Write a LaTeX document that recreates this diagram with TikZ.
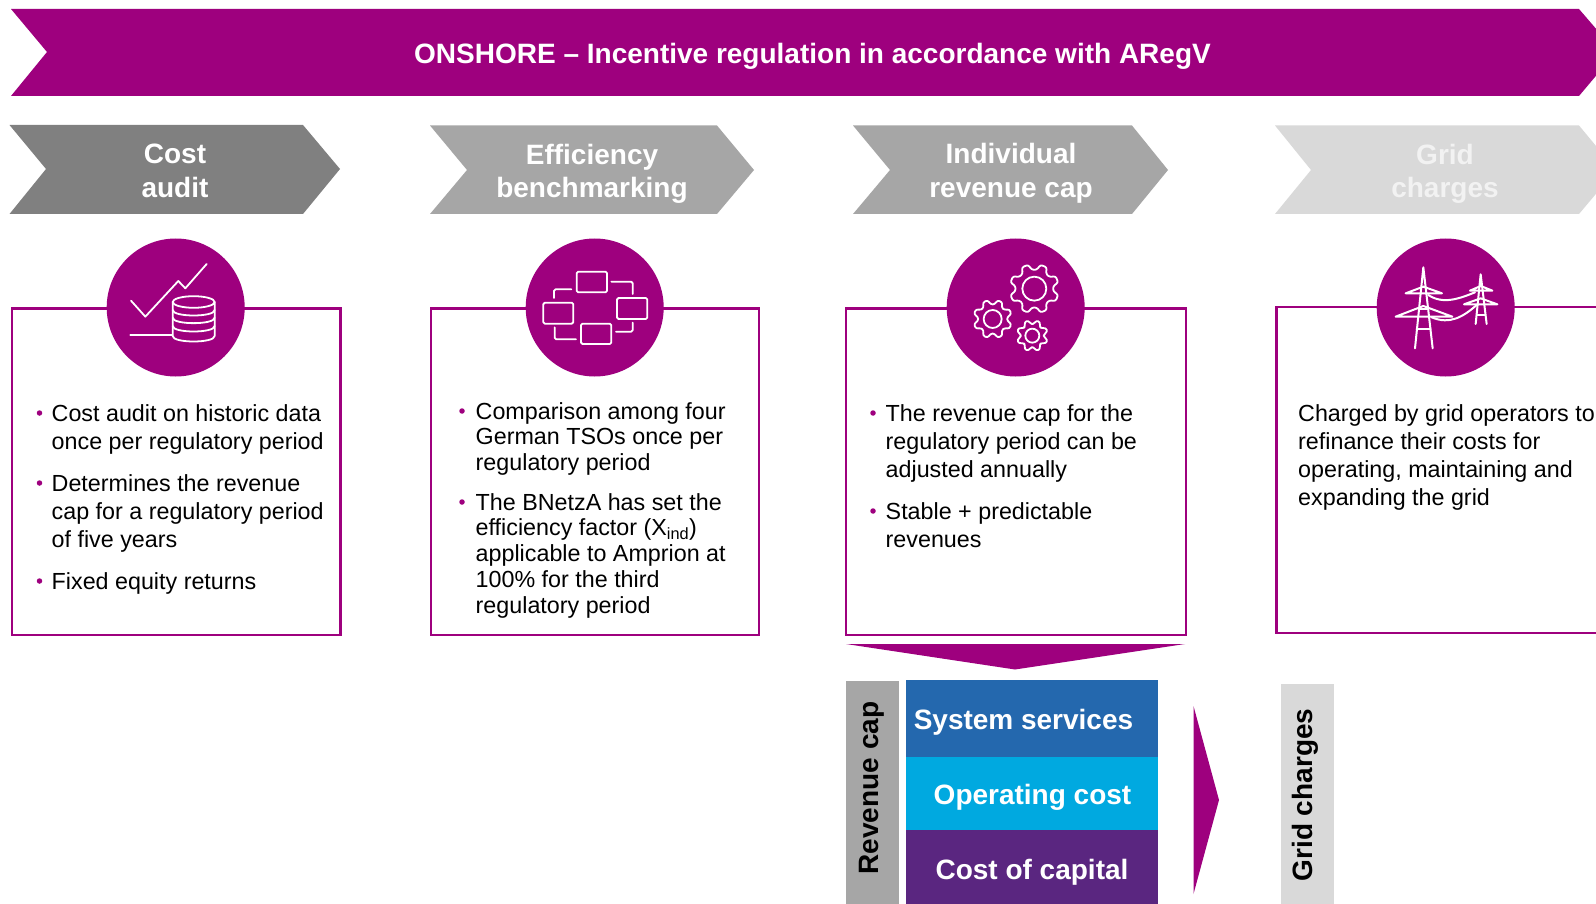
\documentclass[tikz,border=0pt]{standalone}
\usepackage{fontspec}
\setmainfont{Liberation Sans}
\definecolor{amp}{HTML}{9E007E}
\definecolor{gA}{HTML}{808080}
\definecolor{gB}{HTML}{A6A6A6}
\definecolor{gC}{HTML}{D9D9D9}
\definecolor{sysblue}{HTML}{2468AE}
\definecolor{opblue}{HTML}{00A9E0}
\definecolor{capviolet}{HTML}{5A2680}
\tikzset{
  title/.style={font=\fontsize{28}{33.5}\selectfont\bfseries,text=white,align=center,inner sep=0pt},
  barlabel/.style={font=\fontsize{28}{33.5}\selectfont\bfseries,text=black,rotate=90,inner sep=0pt},
  body/.style={font=\fontsize{23.3}{28}\selectfont,text=black,align=left,anchor=north west,inner sep=0pt},
  tight/.style={font=\fontsize{23.3}{25.7}\selectfont,text=black,align=left,anchor=north west,inner sep=0pt},
  bul/.style={circle,fill=amp,minimum size=5.5pt,inner sep=0pt},
  framebox/.style={draw=amp,line width=2.1pt,fill=white},
  disc/.style={fill=amp,draw=none},
  icon/.style={draw=white,line width=1.8pt,line cap=round,line join=round},
}
\newcommand{\st}{\rule{0pt}{18pt}}
\newcommand{\gearicon}[5]{
  \begin{scope}[shift={(#1,#2)}]
    \draw[rounded corners=2.2pt] (22.5-15:#4) \foreach \a in {0,45,...,315}{
      -- ({\a+22.5-15}:#4) -- ({\a+22.5-8}:#3) -- ({\a+22.5+8}:#3) -- ({\a+22.5+15}:#4) } -- cycle;
    \draw (0,0) circle [radius=#5pt*.3333];
  \end{scope}}
\begin{document}
\begin{tikzpicture}[x=1pt,y=-1pt]
\clip (0,0) rectangle (1596,904);
\fill[white] (0,0) rectangle (1596,904);
% banner
\fill[amp] (11,9) -- (1579,9) -- (1616,52) -- (1579,96) -- (11,96) -- (47,52) -- cycle;
\node[title] (banner) at (812.5,56) {ONSHORE – Incentive regulation in accordance with ARegV};
% chevrons
\fill[gA] (9.5,125) -- (303,125) -- (340,169) -- (303,214) -- (9.5,214) -- (46,169) -- cycle;
\fill[gB] (430,125.5) -- (717,125.5) -- (754,170) -- (717,214) -- (430,214) -- (467,170) -- cycle;
\fill[gB] (853,125.5) -- (1132,125.5) -- (1168,170) -- (1132,214) -- (853,214) -- (890,170) -- cycle;
\fill[gC] (1275,125.5) -- (1579,125.5) -- (1616,170) -- (1579,214) -- (1275,214) -- (1311,170) -- cycle;
\node[title] (c1) at (175,171) {Cost\\audit};
\node[title] (c2) at (592,174) {Efficiency\\benchmarking};
\node[title] (c3) at (1011,173.5) {Individual\\revenue cap};
\node[title,text=white!95!black] (c4) at (1445,174) {Grid\\charges};
% boxes
\draw[framebox] (12,308.5) rectangle (340.5,635);
\draw[framebox] (431,308.5) rectangle (759,635);
\draw[framebox] (846,308.5) rectangle (1186,635);
\draw[framebox] (1276.5,307) rectangle (1650,633);
% discs
\fill[disc] (175.7,307.5) circle [radius=69];
\fill[disc] (594.7,307.5) circle [radius=69];
\fill[disc] (1015.7,307.5) circle [radius=69];
\fill[disc] (1445.7,307.5) circle [radius=69];
% icon 1
\begin{scope}[xshift=90pt,yshift=-230pt,x=.3333pt,y=-.3333pt,icon]
  \draw (123,212) -- (166,260) -- (265,153) -- (286,175) -- (350,102);
  \draw (121,316) -- (247,316);
  \draw (311,216) ellipse [x radius=21pt,y radius=5.8pt];
  \draw (248,216) -- (248,318) .. controls (248,340) and (374,340) .. (374,318) -- (374,216);
  \draw (248,240) .. controls (248,262) and (374,262) .. (374,240);
  \draw (248,263) .. controls (248,285) and (374,285) .. (374,263);
  \draw (248,288) .. controls (248,310) and (374,310) .. (374,288);
\end{scope}
% icon 2
\begin{scope}[xshift=510pt,yshift=-230pt,x=.3333pt,y=-.3333pt,icon,rounded corners=1.5pt]
  \draw (200,125) rectangle (291,187);
  \draw (100,218) rectangle (190,281);
  \draw (321,204) rectangle (412,267);
  \draw (213,281) rectangle (304,342);
  \draw (304,155) -- (368,155) -- (368,192);
  \draw (132,204) -- (132,178) -- (184,178);
  \draw (134,292) -- (134,328) -- (198,328);
  \draw (318,305) -- (368,305) -- (368,278);
\end{scope}
% icon 3
\begin{scope}[xshift=930pt,yshift=-230pt,x=.3333pt,y=-.3333pt,icon]
  \gearicon{313}{176}{74}{57}{36}
  \gearicon{188}{267}{58}{44}{27}
  \gearicon{307}{317}{47}{35}{21}
\end{scope}
% icon 4
\begin{scope}[xshift=1360pt,yshift=-230pt,x=.3333pt,y=-.3333pt,icon,line width=2pt]
  \draw (165,355) -- (190,112) -- (218,355);
  \draw (137,190) -- (190,170) -- (246,190) -- cycle;
  \draw (107,260) -- (190,228) -- (277,260) -- cycle;
  \draw (178,236) -- (203,236);
  \draw (170,296) -- (212,296);
  \draw (347,282) -- (362,133) -- (380,282);
  \draw (330,182) -- (362,168) -- (397,182) -- cycle;
  \draw (312,223) -- (362,205) -- (412,223) -- cycle;
  \draw (351,255) -- (376,255);
  \draw (205,195) .. controls (250,225) and (300,205) .. (345,187);
  \draw (215,262) .. controls (270,285) and (310,260) .. (350,225);
\end{scope}
% body text, box 1
\node[bul] (b11) at (39.5,413) {};
\node[body] (t11) at (51.5,403) {\st Cost audit on historic data\\once per regulatory period};
\node[bul] (b12) at (39.5,483) {};
\node[body] (t12) at (51.5,473) {\st Determines the revenue\\cap for a regulatory period\\of five years};
\node[bul] (b13) at (39.5,581) {};
\node[body] (t13) at (51.5,571) {\st Fixed equity returns};
% box 2
\node[bul] (b21) at (462,411) {};
\node[tight] (t21) at (475.5,401) {\st Comparison among four\\German TSOs once per\\regulatory period};
\node[bul] (b22) at (462,502) {};
\node[tight] (t22) at (475.5,492) {\st The BNetzA has set the\\efficiency factor (X\textsubscript{ind})\\applicable to Amprion at\\100\% for the third\\regulatory period};
% box 3
\node[bul] (b31) at (873,413) {};
\node[body] (t31) at (885.5,403) {\st The revenue cap for the\\regulatory period can be\\adjusted annually};
\node[bul] (b32) at (873,511) {};
\node[body] (t32) at (885.5,501) {\st Stable + predictable\\revenues};
% box 4
\node[body] (t41) at (1298,403) {\st Charged by grid operators to\\refinance their costs for\\operating, maintaining and\\expanding the grid};
% lower part
\fill[amp] (846,644) -- (1185,644) -- (1015,669.5) -- cycle;
\fill[gB] (846,681) rectangle (899,904);
\fill[sysblue] (906,680) rectangle (1158,757);
\fill[opblue] (906,757) rectangle (1158,830);
\fill[capviolet] (906,830) rectangle (1158,904);
\fill[amp] (1193.5,706) -- (1219,800) -- (1193.5,894) -- cycle;
\fill[gC] (1281,684) rectangle (1334,904);
\node[barlabel] (rc) at (872,788) {Revenue cap};
\node[barlabel] (gc) at (1305.5,795) {Grid charges};
\node[title] (s1) at (1023.5,722) {System services};
\node[title] (s2) at (1032.5,797) {Operating cost};
\node[title] (s3) at (1032,872) {Cost of capital};
\end{tikzpicture}
\end{document}
